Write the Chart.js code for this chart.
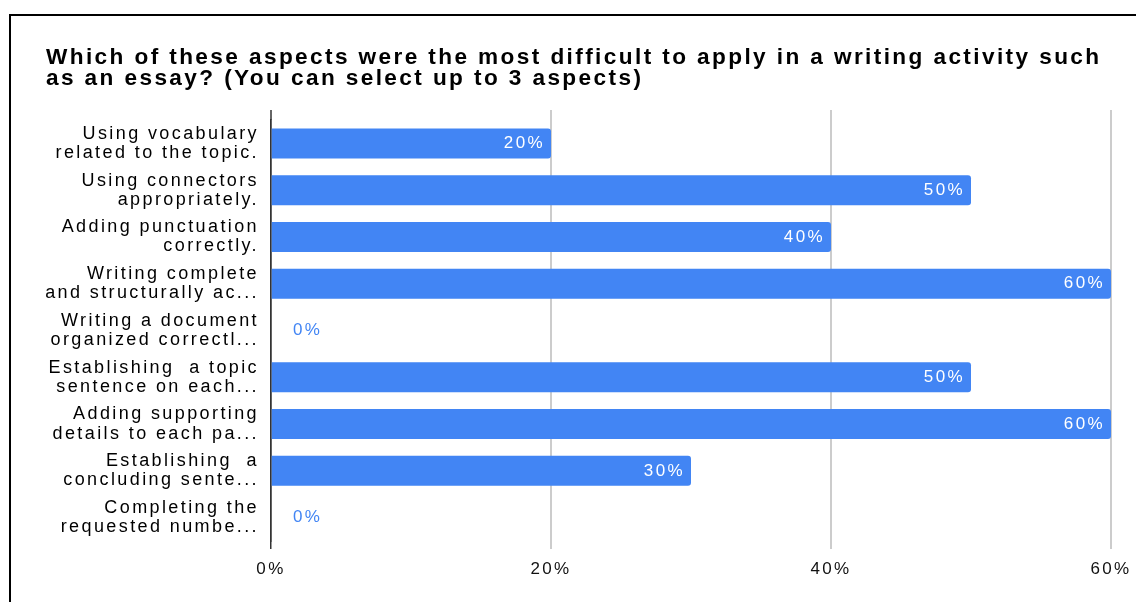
<!DOCTYPE html>
<html>
<head>
<meta charset="utf-8">
<script src="https://cdn.jsdelivr.net/npm/chart.js@4.4.1/dist/chart.umd.min.js"></script>
<style>
  html, body { margin: 0; padding: 0; background: #fff; overflow: hidden; }
  #wrap { position: relative; width: 1136px; height: 602px; }
  #frame { position: absolute; left: 9px; top: 14px; width: 1200px; height: 700px; border: 2px solid #000; pointer-events: none; }
</style>
</head>
<body>
<div id="wrap">
  <canvas id="myChart" width="1136" height="602"></canvas>
  <div id="frame"></div>
</div>
<script>
// data
const chartTitle = [
  'Which of these aspects were the most difficult to apply in a writing activity such',
  'as an essay? (You can select up to 3 aspects)'
]
const aspectLabels = [
  ['Using vocabulary', 'related to the topic.'],
  ['Using connectors', 'appropriately.'],
  ['Adding punctuation', 'correctly.'],
  ['Writing complete', 'and structurally ac...'],
  ['Writing a document', 'organized correctl...'],
  ['Establishing  a topic', 'sentence on each...'],
  ['Adding supporting', 'details to each pa...'],
  ['Establishing  a', 'concluding sente...'],
  ['Completing the', 'requested numbe...']
]
const percentValues = [20, 50, 40, 60, 0, 50, 60, 30, 0]
const xTickValues = [0, 20, 40, 60]

const barBlue = '#4285F4'
const fontFamily = '"Liberation Sans", Arial, sans-serif'

// canvas has no letter-spacing option in Chart.js, so set it on the context
const letterSpacing = {
  id: 'letterSpacing',
  beforeLayout(chart) { chart.ctx.letterSpacing = '2.4px' },
  beforeDraw(chart) { chart.ctx.letterSpacing = '2.4px' }
}

// grid lines in the original run a bit above the bars
const gridExtension = {
  id: 'gridExtension',
  afterDraw(chart) {
    const ctx = chart.ctx
    const x = chart.scales.x
    const top = chart.chartArea.top
    ctx.save()
    xTickValues.forEach((v, i) => {
      const px = x.getPixelForValue(v)
      ctx.strokeStyle = i === 0 ? '#333' : '#ccc'
      ctx.lineWidth = i === 0 ? 1.5 : 2
      ctx.beginPath()
      ctx.moveTo(px, top - 10)
      ctx.lineTo(px, top)
      ctx.stroke()
    })
    ctx.restore()
  }
}

// value labels at the end of each bar
const barValueLabels = {
  id: 'barValueLabels',
  afterDatasetsDraw(chart) {
    const ctx = chart.ctx
    const meta = chart.getDatasetMeta(0)
    ctx.save()
    ctx.letterSpacing = '2.4px'
    ctx.font = '17px ' + fontFamily
    ctx.textBaseline = 'middle'
    meta.data.forEach((bar, i) => {
      const text = percentValues[i] + '%'
      if (percentValues[i] === 0) {
        ctx.fillStyle = barBlue
        ctx.textAlign = 'left'
        ctx.fillText(text, bar.x + 22, bar.y)
      } else {
        ctx.fillStyle = '#fff'
        ctx.textAlign = 'right'
        ctx.fillText(text, bar.x - 6, bar.y)
      }
    })
    ctx.restore()
  }
}

const ctx = document.querySelector('#myChart')

const myChart = new Chart(ctx, {
  type: 'bar',
  data: {
    labels: aspectLabels,
    datasets: [{
      data: percentValues,
      backgroundColor: barBlue,
      borderRadius: 3,
      borderSkipped: 'start',
      barPercentage: 0.64,
      categoryPercentage: 1
    }]
  },
  options: {
    indexAxis: 'y',
    responsive: false,
    animation: false,
    layout: { padding: { left: 46, right: 25, top: 0, bottom: 0 } },
    plugins: {
      legend: { display: false },
      tooltip: { enabled: false },
      title: {
        display: true,
        text: chartTitle,
        align: 'start',
        color: '#000',
        font: { family: fontFamily, size: 22.6, weight: 'bold', lineHeight: 0.93 },
        padding: { top: 47, bottom: 31 }
      }
    },
    scales: {
      x: {
        min: 0,
        max: 60,
        afterBuildTicks: scale => { scale.ticks = xTickValues.map(v => ({ value: v })) },
        afterFit: scale => {
          scale.height = 61
          scale.paddingLeft = 0
          scale.paddingRight = 0
        },
        border: { display: false },
        grid: {
          color: c => c.index === 0 ? '#333' : '#ccc',
          lineWidth: c => c.index === 0 ? 1.5 : 2,
          tickLength: 8
        },
        ticks: {
          color: '#111',
          padding: 10,
          font: { family: fontFamily, size: 17 },
          callback: v => v + '%'
        }
      },
      y: {
        afterFit: scale => { scale.width = 271 - 46 },
        border: { display: true, color: '#333', width: 1.5 },
        grid: { display: false, drawTicks: false },
        ticks: {
          color: '#000',
          padding: 12,
          font: { family: fontFamily, size: 18, lineHeight: 1.06 }
        }
      }
    }
  },
  plugins: [letterSpacing, barValueLabels, gridExtension]
})
</script>
</body>
</html>
